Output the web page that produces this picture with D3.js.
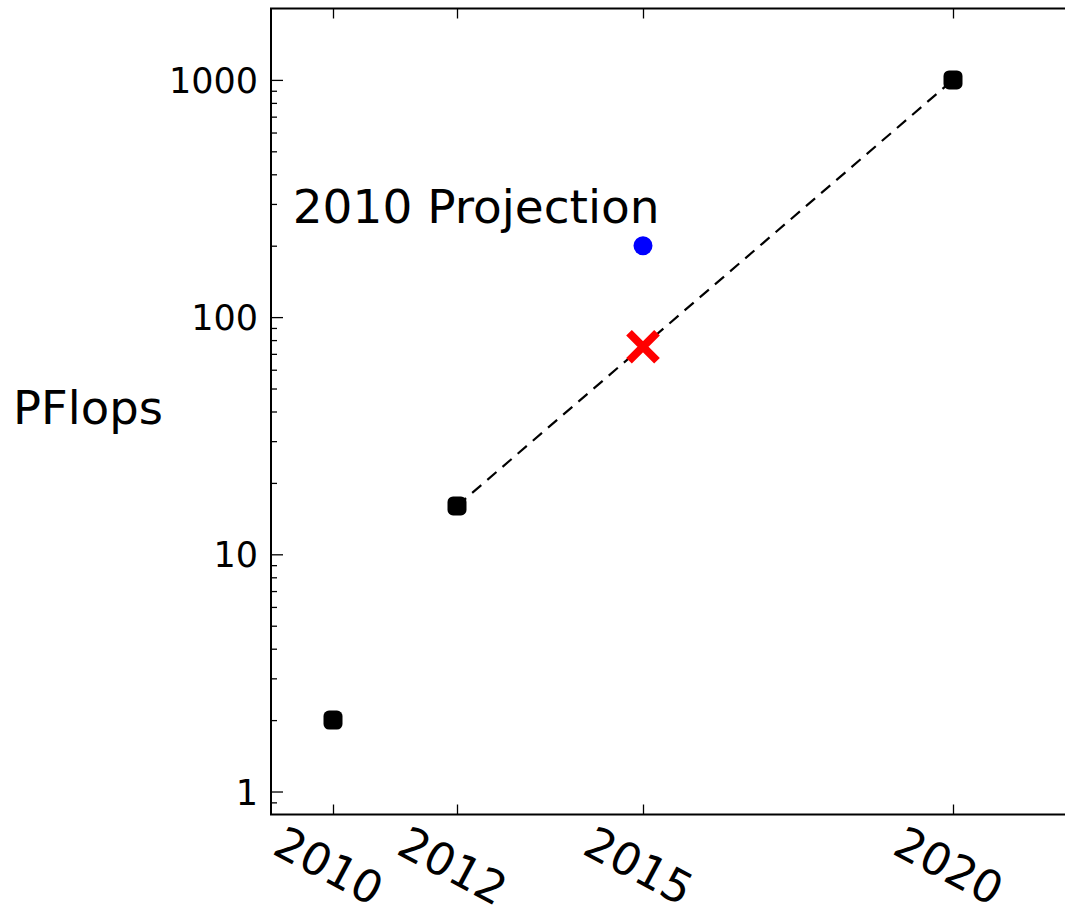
<!DOCTYPE html>
<html>
<head>
<meta charset="utf-8">
<script src="https://cdn.jsdelivr.net/npm/d3@7"></script>
<style>
  html, body { margin: 0; padding: 0; background: #fff; }
  svg { display: block; overflow: hidden; }
  text { font-family: "DejaVu Sans", sans-serif; fill: #000; }
</style>
</head>
<body>
<svg id="chart" width="1065" height="908"></svg>
<script>
// ---- data ----
const xTickYears = [2010, 2012, 2015, 2020];
const xTickLabels = ["2010", "2012", "2015", "2020"];
const yMajorTicks = [1, 10, 100, 1000];
const yMajorLabels = ["1", "10", "100", "1000"];
const yMinorTicks = [0.9, 2, 3, 4, 5, 6, 7, 8, 9, 20, 30, 40, 50, 60, 70, 80, 90,
                     200, 300, 400, 500, 600, 700, 800, 900];
const actualYears = [2010, 2012, 2020];
const actualPFlops = [2, 16, 1000];
const trendYears = [2012, 2020];
const trendPFlops = [16, 1000];
const projectionYears = [2015];
const projectionPFlops = [200];
const currentYears = [2015];
const currentPFlops = [75];
const annotationText = "2010 Projection";
const annotationPos = [2009.35, 250];
const yLabel = "PFlops";
const xDomain = [2009, 2022];
const yDomain = [0.8, 2000];

// ---- layout ----
const plotLeft = 271, plotTop = 8.5, plotBottom = 814.5;
const pxPerYear = 62;
const plotRight = plotLeft + (xDomain[1] - xDomain[0]) * pxPerYear;

const svg = d3.select("#chart");
const x = d3.scaleLinear().domain(xDomain).range([plotLeft, plotRight]);
const y = d3.scaleLog().domain(yDomain).range([plotBottom, plotTop]);

// axes (ticks inward)
const gAxes = svg.append("g");
function styleAxis(g) {
  g.select(".domain").remove();
  g.selectAll(".tick line").attr("stroke", "#000").attr("stroke-width", 1.3);
}
// left major
gAxes.append("g").attr("transform", `translate(${plotLeft},0)`)
  .call(d3.axisLeft(y).tickValues(yMajorTicks).tickSize(-12).tickPadding(13)
    .tickFormat((d, i) => yMajorLabels[i]))
  .call(styleAxis)
  .call(g => g.selectAll(".tick text").attr("font-size", 35)
    .attr("font-family", "DejaVu Sans, sans-serif").attr("fill", "#000").attr("dy", "0.36em"));
// left minor
gAxes.append("g").attr("transform", `translate(${plotLeft},0)`)
  .call(d3.axisLeft(y).tickValues(yMinorTicks).tickSize(-6).tickFormat(""))
  .call(styleAxis);
// right major/minor
gAxes.append("g").attr("transform", `translate(${plotRight},0)`)
  .call(d3.axisRight(y).tickValues(yMajorTicks).tickSize(-12).tickFormat(""))
  .call(styleAxis);
gAxes.append("g").attr("transform", `translate(${plotRight},0)`)
  .call(d3.axisRight(y).tickValues(yMinorTicks).tickSize(-6).tickFormat(""))
  .call(styleAxis);
// top
gAxes.append("g").attr("transform", `translate(0,${plotTop})`)
  .call(d3.axisTop(x).tickValues(xTickYears).tickSize(-10).tickFormat(""))
  .call(styleAxis);
// bottom
gAxes.append("g").attr("transform", `translate(0,${plotBottom})`)
  .call(d3.axisBottom(x).tickValues(xTickYears).tickSize(-10).tickFormat(""))
  .call(styleAxis);

// rotated x tick labels
svg.append("g").selectAll("text").data(xTickYears).join("text")
  .attr("transform", d => `translate(${x(d) - 4},${plotBottom + 51}) rotate(28)`)
  .attr("text-anchor", "middle")
  .attr("dy", "0.36em")
  .attr("font-size", 45)
  .text((d, i) => xTickLabels[i]);

// spines
svg.append("rect")
  .attr("x", plotLeft).attr("y", plotTop)
  .attr("width", plotRight - plotLeft).attr("height", plotBottom - plotTop)
  .attr("fill", "none").attr("stroke", "#000").attr("stroke-width", 2);

// trend dashed line
const line = d3.line().x(d => x(d[0])).y(d => y(d[1]));
svg.append("path")
  .datum(trendYears.map((t, i) => [t, trendPFlops[i]]))
  .attr("d", line)
  .attr("fill", "none").attr("stroke", "#000").attr("stroke-width", 2.2)
  .attr("stroke-dasharray", "12,8");

// actual (black rounded squares)
const ms = 19;
svg.append("g").selectAll("rect").data(actualYears.map((t, i) => [t, actualPFlops[i]])).join("rect")
  .attr("x", d => x(d[0]) - ms / 2).attr("y", d => y(d[1]) - ms / 2)
  .attr("width", ms).attr("height", ms).attr("rx", 5.5).attr("ry", 5.5)
  .attr("fill", "#000");

// projection (blue circle)
svg.append("g").selectAll("circle").data(projectionYears.map((t, i) => [t, projectionPFlops[i]])).join("circle")
  .attr("cx", d => x(d[0])).attr("cy", d => y(d[1])).attr("r", 9.5)
  .attr("fill", "#0000ff");

// current (red X)
const xs = 14;
const gx = svg.append("g").selectAll("g").data(currentYears.map((t, i) => [t, currentPFlops[i]])).join("g")
  .attr("transform", d => `translate(${x(d[0])},${y(d[1])})`);
gx.append("path")
  .attr("d", `M${-xs},${-xs}L${xs},${xs}M${-xs},${xs}L${xs},${-xs}`)
  .attr("stroke", "#ff0000").attr("stroke-width", 8).attr("fill", "none");

// annotation
svg.append("text")
  .attr("x", x(annotationPos[0])).attr("y", y(annotationPos[1]))
  .attr("font-size", 47)
  .text(annotationText);

// y label
svg.append("text")
  .attr("x", 88).attr("y", (plotTop + plotBottom) / 2 + 12)
  .attr("text-anchor", "middle")
  .attr("font-size", 46.5)
  .text(yLabel);
</script>
</body>
</html>
